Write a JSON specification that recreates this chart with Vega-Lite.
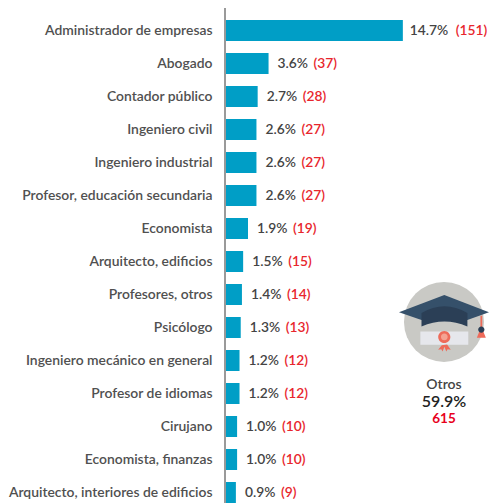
{
"$schema":"https://vega.github.io/schema/vega-lite/v6.json",
"width":264,"height":495,
"padding":{"left":225,"top":8,"right":0,"bottom":0},
"autosize":{"type":"none"},
"background":"white",
"config":{"view":{"stroke":null},"font":"Lato"},
"datasets":{
"rows":[
{"ocupacion":"Administrador de empresas","pct":14.7,"etiqueta":"14.7%","cuenta":"(151)"},
{"ocupacion":"Abogado","pct":3.6,"etiqueta":"3.6%","cuenta":"(37)"},
{"ocupacion":"Contador público","pct":2.7,"etiqueta":"2.7%","cuenta":"(28)"},
{"ocupacion":"Ingeniero civil","pct":2.6,"etiqueta":"2.6%","cuenta":"(27)"},
{"ocupacion":"Ingeniero industrial","pct":2.6,"etiqueta":"2.6%","cuenta":"(27)"},
{"ocupacion":"Profesor, educación secundaria","pct":2.6,"etiqueta":"2.6%","cuenta":"(27)"},
{"ocupacion":"Economista","pct":1.9,"etiqueta":"1.9%","cuenta":"(19)"},
{"ocupacion":"Arquitecto, edificios","pct":1.5,"etiqueta":"1.5%","cuenta":"(15)"},
{"ocupacion":"Profesores, otros","pct":1.4,"etiqueta":"1.4%","cuenta":"(14)"},
{"ocupacion":"Psicólogo","pct":1.3,"etiqueta":"1.3%","cuenta":"(13)"},
{"ocupacion":"Ingeniero mecánico en general","pct":1.2,"etiqueta":"1.2%","cuenta":"(12)"},
{"ocupacion":"Profesor de idiomas","pct":1.2,"etiqueta":"1.2%","cuenta":"(12)"},
{"ocupacion":"Cirujano","pct":1.0,"etiqueta":"1.0%","cuenta":"(10)"},
{"ocupacion":"Economista, finanzas","pct":1.0,"etiqueta":"1.0%","cuenta":"(10)"},
{"ocupacion":"Arquitecto, interiores de edificios","pct":0.9,"etiqueta":"0.9%","cuenta":"(9)"}
],
"icon":[{"xp":18.1,"r":9.83}],
"otros":[
{"kind":"nombre","texto":"Otros","xp":18.1,"r":11.74},
{"kind":"pct","texto":"59.9%","xp":18.1,"r":12.26},
{"kind":"n","texto":"615","xp":18.1,"r":12.76}
]
},
"resolve":{"scale":{"y":"independent"}},
"layer":[
{
"data":{"name":"rows"},
"encoding":{
"y":{"field":"ocupacion","type":"nominal","sort":null,
"scale":{"range":[6,501],"paddingInner":0.3636,"paddingOuter":0.1818},
"axis":{"title":null,"domain":false,"ticks":false,"labelPadding":13,"labelFont":"Lato","labelFontSize":13.9,"labelFontWeight":600,"labelColor":"#505050","labelLimit":230,"labelOffset":0.7,"grid":false}},
"x":{"field":"pct","type":"quantitative","scale":{"domain":[0,21.82],"nice":false,"zero":false},"axis":null}
},
"layer":[
{"mark":{"type":"bar","color":"#009EC6"}},
{"transform":[{"filter":"datum.pct<10"}],"mark":{"type":"text","align":"left","baseline":"middle","dx":9,"dy":0.7,"font":"Lato","fontSize":13.8,"fontWeight":600,"color":"#444444"},"encoding":{"text":{"field":"etiqueta"}}},
{"transform":[{"filter":"datum.pct>=10"}],"mark":{"type":"text","align":"left","baseline":"middle","dx":7,"dy":0.7,"font":"Lato","fontSize":13.8,"fontWeight":600,"color":"#444444"},"encoding":{"text":{"field":"etiqueta"}}},
{"transform":[{"filter":"datum.pct<10"}],"mark":{"type":"text","align":"left","baseline":"middle","dx":45,"dy":0.7,"font":"Lato","fontSize":13.8,"fontWeight":600,"color":"#E8262D"},"encoding":{"text":{"field":"cuenta"}}},
{"transform":[{"filter":"datum.pct>=10"}],"mark":{"type":"text","align":"left","baseline":"middle","dx":53,"dy":0.7,"font":"Lato","fontSize":13.8,"fontWeight":600,"color":"#E8262D"},"encoding":{"text":{"field":"cuenta"}}},
{"mark":{"type":"rule","color":"#9A9A9A","strokeWidth":2},"encoding":{"x":{"datum":0},"y":null}}
]
},
{
"data":{"name":"icon"},
"encoding":{
"x":{"field":"xp","type":"quantitative","axis":null},
"y":{"field":"r","type":"quantitative","scale":{"domain":[0.318,15.318],"range":[0,495],"nice":false,"zero":false},"axis":null}
},
"layer":[
{"mark":{"type":"point","filled":true,"shape":"circle","size":6400,"color":"#C9C9C5","opacity":1}},
{"mark":{"type":"point","filled":true,"opacity":1,"size":8100,"color":"#E6E7EC","shape":"M-.525 .215 L.54 .215 L.54 .51 L-.525 .51 Z"}},
{"mark":{"type":"point","filled":true,"opacity":1,"size":8100,"color":"#EE6B5A","shape":"M-.05 .52 L-.13 .62 L-.06 .61 L-.03 .66 L.01 .55 L.05 .66 L.08 .61 L.15 .62 L.07 .5 Z"}},
{"mark":{"type":"point","filled":true,"opacity":1,"size":8100,"color":"#EE6B5A","shape":"M.007 .2 A.135 .135 0 1 1 .006 .2 Z"}},
{"mark":{"type":"point","filled":true,"opacity":1,"size":8100,"color":"#F4A393","shape":"M.007 .26 A.075 .075 0 1 0 .008 .26 Z"}},
{"mark":{"type":"point","filled":true,"opacity":1,"size":8100,"color":"#35506A","shape":"M-1 -.216 L.007 -.6 L1 -.216 L.52 -.04 L-.5 -.04 Z"}},
{"mark":{"type":"point","filled":true,"opacity":1,"size":8100,"color":"#2B3F56","shape":"M-.5 -.2 Q.01 -.5 .52 -.2 L.52 .105 Q.01 -.12 -.5 .105 Z"}},
{"mark":{"type":"point","filled":true,"opacity":1,"size":8100,"color":"#EE6B5A","shape":"M.81 -.13 L.85 -.14 L.85 .15 L.93 .35 L.73 .35 L.81 .15 Z"}},
{"mark":{"type":"point","filled":true,"opacity":1,"size":8100,"color":"#2B3F56","shape":"M.83 .1 A.07 .07 0 1 1 .829 .1 Z"}}
]
},
{
"data":{"name":"otros"},
"encoding":{
"x":{"field":"xp","type":"quantitative","axis":null},
"y":{"field":"r","type":"quantitative","scale":{"domain":[0.318,15.318],"range":[0,495],"nice":false,"zero":false},"axis":null},
"text":{"field":"texto"}
},
"layer":[
{"transform":[{"filter":"datum.kind=='nombre'"}],"mark":{"type":"text","align":"center","baseline":"middle","font":"Lato","fontWeight":600,"fontSize":14,"color":"#444444"}},
{"transform":[{"filter":"datum.kind=='pct'"}],"mark":{"type":"text","align":"center","baseline":"middle","font":"Lato","fontWeight":600,"fontSize":16,"color":"#222222"}},
{"transform":[{"filter":"datum.kind=='n'"}],"mark":{"type":"text","align":"center","baseline":"middle","font":"Lato","fontWeight":700,"fontSize":13.5,"color":"#E8001C"}}
]
}
]
}
